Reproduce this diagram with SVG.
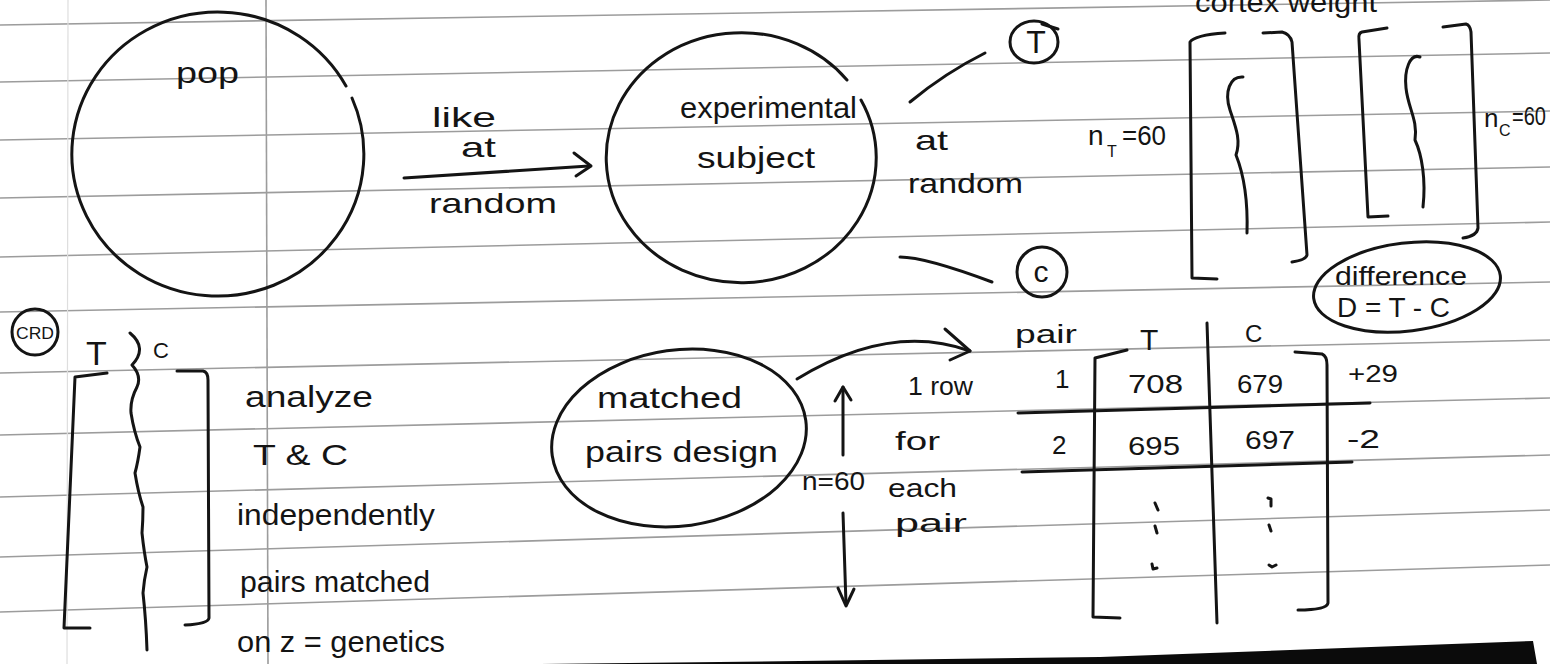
<svg xmlns="http://www.w3.org/2000/svg" width="1550" height="664" viewBox="0 0 1550 664">
<style>
.t{font-family:"Liberation Sans",Arial,sans-serif;fill:#141414;}
.s{fill:none;stroke:#141414;stroke-width:3;stroke-linecap:round;stroke-linejoin:round;}
.rule{stroke:#9c9c9c;stroke-width:1.6;}
</style>
<rect width="1550" height="664" fill="#ffffff"/>
<g id="paper">
<line class="rule" x1="0" y1="25" x2="1550" y2="0"/>
<line class="rule" x1="0" y1="82" x2="1550" y2="53"/>
<line class="rule" x1="0" y1="140" x2="1550" y2="111"/>
<line class="rule" x1="0" y1="198" x2="1550" y2="167"/>
<line class="rule" x1="0" y1="257" x2="1550" y2="222"/>
<line class="rule" x1="0" y1="312" x2="1550" y2="282"/>
<line class="rule" x1="0" y1="373" x2="1550" y2="340"/>
<line class="rule" x1="0" y1="435" x2="1550" y2="398"/>
<line class="rule" x1="0" y1="497" x2="1550" y2="455"/>
<line class="rule" x1="0" y1="557" x2="1550" y2="510"/>
<line class="rule" x1="0" y1="612" x2="1550" y2="565"/>
<line class="rule" x1="266" y1="0" x2="268" y2="664"/>
<line x1="68" y1="0" x2="67" y2="664" stroke="#dedede" stroke-width="1.2"/>
<path d="M540,664 L800,661 L1100,657 L1533,641 L1537,664 Z" fill="#0b0b0b"/>
</g>
<g id="node-pop">
<path class="s" d="M352,98 A146 142 0 1 1 346,86"/>
<text class="t" x="176" y="83" font-size="29" textLength="63" lengthAdjust="spacingAndGlyphs">pop</text>
</g>
<g id="node-experimental">
<path class="s" d="M861,100 A135 125 0 1 1 847,80"/>
<text class="t" x="680" y="118" font-size="30" textLength="177" lengthAdjust="spacingAndGlyphs">experimental</text>
<text class="t" x="697" y="168" font-size="30" textLength="118" lengthAdjust="spacingAndGlyphs">subject</text>
</g>
<g id="node-T">
<ellipse class="s" cx="1034" cy="42" rx="24" ry="21"/>
<path class="s" d="M1042,24 L1058,29"/>
<text class="t" x="1036" y="53" font-size="32" text-anchor="middle">T</text>
</g>
<g id="node-C">
<circle class="s" cx="1042" cy="272" r="25"/>
<text class="t" x="1041" y="282" font-size="30" text-anchor="middle">c</text>
</g>
<g id="connectors">
<path class="s" d="M404,178 L589,166"/>
<path class="s" d="M574,153 L591,166 L576,176"/>
<path class="s" d="M910,102 Q945,73 985,53"/>
<path class="s" d="M900,257 Q925,257 992,282"/>
<path class="s" d="M797,379 Q890,322 970,351"/>
<path class="s" d="M945,329 L970,351 L950,360"/>
<path class="s" d="M843,455 L843,387"/>
<path class="s" d="M835,401 L843,387 L851,400"/>
<path class="s" d="M843,513 L846,604"/>
<path class="s" d="M838,588 L846,606 L854,589"/>
</g>
<g id="label-like-at-random">
<text class="t" x="432" y="127" font-size="28" textLength="64" lengthAdjust="spacingAndGlyphs">like</text>
<text class="t" x="461" y="157" font-size="28" textLength="35" lengthAdjust="spacingAndGlyphs">at</text>
<text class="t" x="429" y="213" font-size="28" textLength="128" lengthAdjust="spacingAndGlyphs">random</text>
</g>
<g id="label-at-random">
<text class="t" x="915" y="150" font-size="28" textLength="33" lengthAdjust="spacingAndGlyphs">at</text>
<text class="t" x="908" y="193" font-size="28" textLength="115" lengthAdjust="spacingAndGlyphs">random</text>
</g>
<g id="cortex-weight">
<text class="t" x="1195" y="12" font-size="27" textLength="182" lengthAdjust="spacingAndGlyphs">cortex weight</text>
<path class="s" d="M1225,33 Q1195,35 1190,42 L1192,278 L1217,279"/>
<path class="s" d="M1263,33 L1282,32 Q1290,34 1292,42 L1307,255 Q1306,260 1292,262"/>
<path class="s" d="M1243,77 C1230,76 1224,92 1230,110 C1236,128 1241,140 1236,155 C1244,175 1248,200 1247,233"/>
<path class="s" d="M1387,28 L1362,32 Q1358,33 1359,40 L1368,217 L1388,216"/>
<path class="s" d="M1443,27 L1466,24 Q1470,25 1471,32 L1478,228 Q1477,236 1463,238"/>
<path class="s" d="M1420,57 C1410,53 1404,70 1406,88 C1408,108 1418,120 1415,140 C1422,155 1426,180 1423,207"/>
<text class="t" x="1088" y="145" font-size="28">n</text>
<text class="t" x="1107" y="157" font-size="16">T</text>
<text class="t" x="1122" y="145" font-size="28" textLength="44" lengthAdjust="spacingAndGlyphs">=60</text>
<text class="t" x="1484" y="127" font-size="26">n</text>
<text class="t" x="1499" y="136" font-size="16">C</text>
<text class="t" x="1512" y="125" font-size="25" textLength="34" lengthAdjust="spacingAndGlyphs">=60</text>
</g>
<g id="node-difference">
<ellipse class="s" cx="1407" cy="287" rx="94" ry="44" transform="rotate(-7 1407 287)"/>
<text class="t" x="1335" y="285" font-size="26" textLength="132" lengthAdjust="spacingAndGlyphs">difference</text>
<text class="t" x="1337" y="317" font-size="28" textLength="113" lengthAdjust="spacingAndGlyphs">D = T - C</text>
</g>
<g id="node-CRD">
<circle class="s" cx="35" cy="332" r="23"/>
<text class="t" x="35" y="339" font-size="17" text-anchor="middle" textLength="38" lengthAdjust="spacingAndGlyphs">CRD</text>
</g>
<g id="crd-brackets">
<text class="t" x="86" y="365" font-size="34">T</text>
<text class="t" x="153" y="358" font-size="22">C</text>
<path class="s" d="M107,373 L75,377 L64,628 L90,628"/>
<path class="s" d="M177,371 L203,371 Q208,372 208,380 L209,618 Q208,624 185,625"/>
<path class="s" d="M130,333 Q148,348 132,365 Q142,376 137,387 Q130,400 131,413 Q134,432 140,447 Q138,462 135,473 Q138,492 143,507 Q143,520 142,533 Q144,552 147,567 Q144,580 143,593 Q146,620 147,650"/>
<text class="t" x="245" y="407" font-size="30" textLength="128" lengthAdjust="spacingAndGlyphs">analyze</text>
<text class="t" x="253" y="465" font-size="30" textLength="95" lengthAdjust="spacingAndGlyphs">T &amp; C</text>
<text class="t" x="237" y="525" font-size="30" textLength="198" lengthAdjust="spacingAndGlyphs">independently</text>
<text class="t" x="240" y="592" font-size="30" textLength="190" lengthAdjust="spacingAndGlyphs">pairs matched</text>
<text class="t" x="237" y="652" font-size="30" textLength="208" lengthAdjust="spacingAndGlyphs">on z = genetics</text>
</g>
<g id="node-matched-pairs">
<ellipse class="s" cx="679" cy="438" rx="128" ry="88" transform="rotate(-8 679 438)"/>
<text class="t" x="597" y="408" font-size="30" textLength="145" lengthAdjust="spacingAndGlyphs">matched</text>
<text class="t" x="585" y="462" font-size="30" textLength="193" lengthAdjust="spacingAndGlyphs">pairs design</text>
</g>
<g id="label-n60">
<text class="t" x="802" y="490" font-size="26" textLength="63" lengthAdjust="spacingAndGlyphs">n=60</text>
<text class="t" x="908" y="395" font-size="26" textLength="65" lengthAdjust="spacingAndGlyphs">1 row</text>
<text class="t" x="895" y="450" font-size="26" textLength="45" lengthAdjust="spacingAndGlyphs">for</text>
<text class="t" x="888" y="497" font-size="26" textLength="69" lengthAdjust="spacingAndGlyphs">each</text>
<text class="t" x="895" y="532" font-size="26" textLength="72" lengthAdjust="spacingAndGlyphs">pair</text>
</g>
<g id="table">
<text class="t" x="1015" y="343" font-size="26" textLength="62" lengthAdjust="spacingAndGlyphs">pair</text>
<text class="t" x="1140" y="350" font-size="30">T</text>
<text class="t" x="1245" y="342" font-size="24">C</text>
<path class="s" d="M1127,350 L1095,358 L1093,617 L1120,618"/>
<path class="s" d="M1295,352 L1322,354 Q1327,356 1327,365 L1328,603 Q1327,610 1298,610"/>
<path class="s" d="M1207,323 L1217,623"/>
<path class="s" d="M1018,413 L1370,403"/>
<path class="s" d="M1022,472 L1352,462"/>
<text class="t" x="1055" y="388" font-size="26">1</text>
<text class="t" x="1128" y="393" font-size="26" textLength="55" lengthAdjust="spacingAndGlyphs">708</text>
<text class="t" x="1237" y="393" font-size="26" textLength="46" lengthAdjust="spacingAndGlyphs">679</text>
<text class="t" x="1348" y="382" font-size="24" textLength="50" lengthAdjust="spacingAndGlyphs">+29</text>
<text class="t" x="1052" y="454" font-size="26">2</text>
<text class="t" x="1128" y="455" font-size="26" textLength="52" lengthAdjust="spacingAndGlyphs">695</text>
<text class="t" x="1245" y="449" font-size="26" textLength="50" lengthAdjust="spacingAndGlyphs">697</text>
<text class="t" x="1347" y="448" font-size="26" textLength="33" lengthAdjust="spacingAndGlyphs">-2</text>
<path class="s" d="M1155,503 L1158,510 M1155,526 L1157,533 M1152,564 L1153,569 L1157,568 M1268,498 L1271,499 L1271,506 M1269,525 L1271,531 M1269,565 L1272,567 L1276,565"/>
</g>
</svg>
